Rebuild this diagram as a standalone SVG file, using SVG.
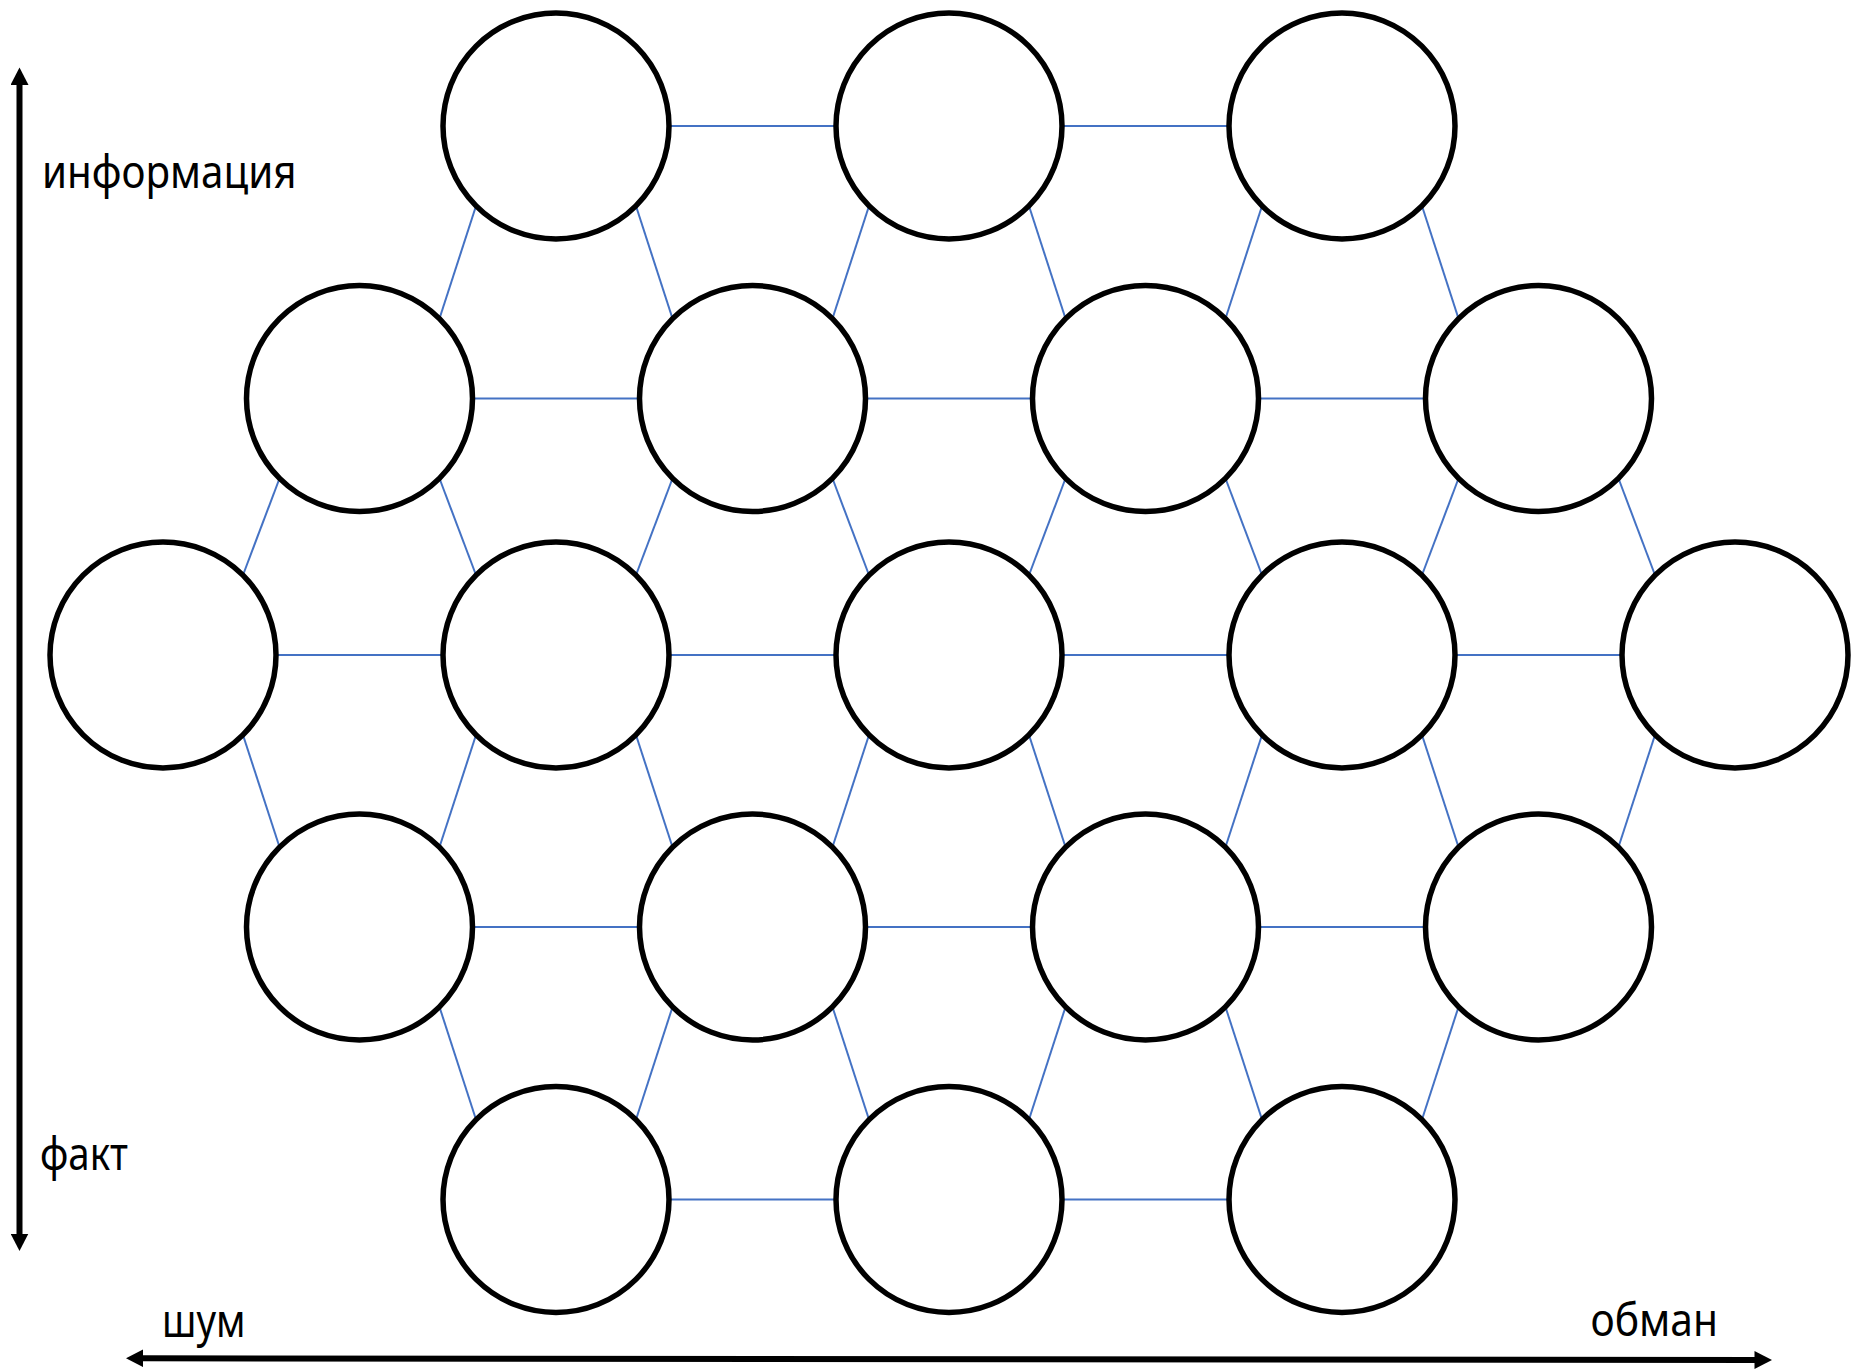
<svg xmlns="http://www.w3.org/2000/svg" width="1864" height="1369" viewBox="0 0 1864 1369">
<style>
.node{fill:#ffffff;stroke:#000000;stroke-width:5.5}
.link{stroke:#4472C4;stroke-width:2}
.axis{stroke:#000000;stroke-width:6;fill:none;marker-start:url(#ah);marker-end:url(#ah)}
.lbl{font-family:"Noto Sans","Open Sans","Liberation Sans",sans-serif;font-size:45px;fill:#000000}
</style>
<defs>
<marker id="ah" markerUnits="userSpaceOnUse" markerWidth="18" markerHeight="18" refX="1" refY="9" orient="auto-start-reverse" viewBox="0 0 18 18">
<path d="M0,0 L17.5,9 L0,18 z" fill="#000000"/>
</marker>
</defs>
<rect width="1864" height="1369" fill="#ffffff"/>
<g id="connectors">
<line class="link" x1="669" y1="126" x2="836" y2="126"/>
<line class="link" x1="1062" y1="126" x2="1229" y2="126"/>
<line class="link" x1="472.5" y1="398.5" x2="639.5" y2="398.5"/>
<line class="link" x1="865.5" y1="398.5" x2="1032.5" y2="398.5"/>
<line class="link" x1="1258.5" y1="398.5" x2="1425.5" y2="398.5"/>
<line class="link" x1="276" y1="655" x2="443" y2="655"/>
<line class="link" x1="669" y1="655" x2="836" y2="655"/>
<line class="link" x1="1062" y1="655" x2="1229" y2="655"/>
<line class="link" x1="1455" y1="655" x2="1622" y2="655"/>
<line class="link" x1="472.5" y1="927" x2="639.5" y2="927"/>
<line class="link" x1="865.5" y1="927" x2="1032.5" y2="927"/>
<line class="link" x1="1258.5" y1="927" x2="1425.5" y2="927"/>
<line class="link" x1="669" y1="1199.5" x2="836" y2="1199.5"/>
<line class="link" x1="1062" y1="1199.5" x2="1229" y2="1199.5"/>
<line class="link" x1="476" y1="206" x2="439.5" y2="318.5"/>
<line class="link" x1="636" y1="206" x2="672.5" y2="318.5"/>
<line class="link" x1="869" y1="206" x2="832.5" y2="318.5"/>
<line class="link" x1="1029" y1="206" x2="1065.5" y2="318.5"/>
<line class="link" x1="1262" y1="206" x2="1225.5" y2="318.5"/>
<line class="link" x1="1422" y1="206" x2="1458.5" y2="318.5"/>
<line class="link" x1="279.5" y1="478.5" x2="243" y2="575"/>
<line class="link" x1="439.5" y1="478.5" x2="476" y2="575"/>
<line class="link" x1="672.5" y1="478.5" x2="636" y2="575"/>
<line class="link" x1="832.5" y1="478.5" x2="869" y2="575"/>
<line class="link" x1="1065.5" y1="478.5" x2="1029" y2="575"/>
<line class="link" x1="1225.5" y1="478.5" x2="1262" y2="575"/>
<line class="link" x1="1458.5" y1="478.5" x2="1422" y2="575"/>
<line class="link" x1="1618.5" y1="478.5" x2="1655" y2="575"/>
<line class="link" x1="243" y1="735" x2="279.5" y2="847"/>
<line class="link" x1="476" y1="735" x2="439.5" y2="847"/>
<line class="link" x1="636" y1="735" x2="672.5" y2="847"/>
<line class="link" x1="869" y1="735" x2="832.5" y2="847"/>
<line class="link" x1="1029" y1="735" x2="1065.5" y2="847"/>
<line class="link" x1="1262" y1="735" x2="1225.5" y2="847"/>
<line class="link" x1="1422" y1="735" x2="1458.5" y2="847"/>
<line class="link" x1="1655" y1="735" x2="1618.5" y2="847"/>
<line class="link" x1="439.5" y1="1007" x2="476" y2="1119.5"/>
<line class="link" x1="672.5" y1="1007" x2="636" y2="1119.5"/>
<line class="link" x1="832.5" y1="1007" x2="869" y2="1119.5"/>
<line class="link" x1="1065.5" y1="1007" x2="1029" y2="1119.5"/>
<line class="link" x1="1225.5" y1="1007" x2="1262" y2="1119.5"/>
<line class="link" x1="1458.5" y1="1007" x2="1422" y2="1119.5"/>
</g>
<g id="n1-1"><circle class="node" cx="556" cy="126" r="113"/></g>
<g id="n1-2"><circle class="node" cx="949" cy="126" r="113"/></g>
<g id="n1-3"><circle class="node" cx="1342" cy="126" r="113"/></g>
<g id="n2-1"><circle class="node" cx="359.5" cy="398.5" r="113"/></g>
<g id="n2-2"><circle class="node" cx="752.5" cy="398.5" r="113"/></g>
<g id="n2-3"><circle class="node" cx="1145.5" cy="398.5" r="113"/></g>
<g id="n2-4"><circle class="node" cx="1538.5" cy="398.5" r="113"/></g>
<g id="n3-1"><circle class="node" cx="163" cy="655" r="113"/></g>
<g id="n3-2"><circle class="node" cx="556" cy="655" r="113"/></g>
<g id="n3-3"><circle class="node" cx="949" cy="655" r="113"/></g>
<g id="n3-4"><circle class="node" cx="1342" cy="655" r="113"/></g>
<g id="n3-5"><circle class="node" cx="1735" cy="655" r="113"/></g>
<g id="n4-1"><circle class="node" cx="359.5" cy="927" r="113"/></g>
<g id="n4-2"><circle class="node" cx="752.5" cy="927" r="113"/></g>
<g id="n4-3"><circle class="node" cx="1145.5" cy="927" r="113"/></g>
<g id="n4-4"><circle class="node" cx="1538.5" cy="927" r="113"/></g>
<g id="n5-1"><circle class="node" cx="556" cy="1199.5" r="113"/></g>
<g id="n5-2"><circle class="node" cx="949" cy="1199.5" r="113"/></g>
<g id="n5-3"><circle class="node" cx="1342" cy="1199.5" r="113"/></g>
<g id="axes">
<line class="axis" x1="19.5" y1="84" x2="19.5" y2="1234.5"/>
<line class="axis" x1="142.5" y1="1358.3" x2="1755.5" y2="1360"/>
</g>
<g id="labels">
<text class="lbl" x="42" y="187.5" textLength="254.5" lengthAdjust="spacingAndGlyphs">информация</text>
<text class="lbl" x="40" y="1170" textLength="88" lengthAdjust="spacingAndGlyphs">факт</text>
<text class="lbl" x="162" y="1337.3" textLength="83.5" lengthAdjust="spacingAndGlyphs">шум</text>
<text class="lbl" x="1590.5" y="1336" textLength="127.5" lengthAdjust="spacingAndGlyphs">обман</text>
</g>
</svg>
